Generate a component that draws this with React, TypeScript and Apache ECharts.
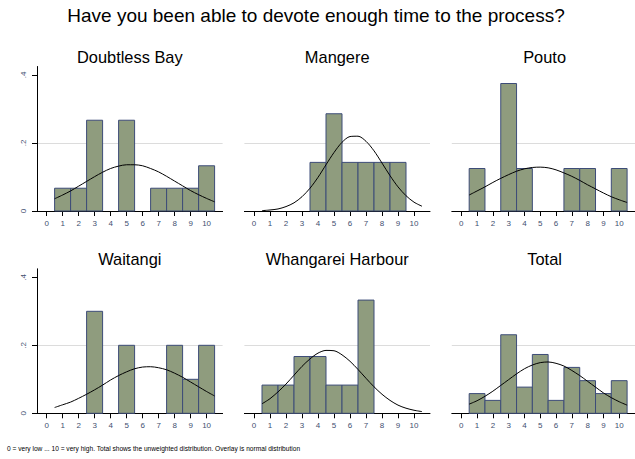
import React, { useEffect, useRef } from "react";
import * as echarts from "echarts";

const MAIN_TITLE = "Have you been able to devote enough time to the process?";
const NOTE =
  "0 = very low ... 10 = very high. Total shows the unweighted distribution. Overlay is normal distribution";

const PANEL_TITLES = ["Doubtless Bay", "Mangere", "Pouto", "Waitangi", "Whangarei Harbour", "Total"];

const BINS = [0, 1, 2, 3, 4, 5, 6, 7, 8, 9, 10];
const X_TICKS = [0, 1, 2, 3, 4, 5, 6, 7, 8, 9, 10];
const Y_TICKS = [0, 0.2, 0.4];

// histogram densities
const doubtlessBay = [0, 0.067, 0.067, 0.267, 0, 0.267, 0, 0.067, 0.067, 0.067, 0.133];
const mangere = [0, 0, 0, 0, 0.143, 0.286, 0.143, 0.143, 0.143, 0.143, 0];
const pouto = [0, 0.125, 0, 0.375, 0.125, 0, 0, 0.125, 0.125, 0, 0.125];
const waitangi = [0, 0, 0, 0.3, 0, 0.2, 0, 0, 0.2, 0.1, 0.2];
const whangarei = [0, 0.083, 0.083, 0.167, 0.167, 0.083, 0.083, 0.333, 0, 0, 0];
const total = [0, 0.058, 0.038, 0.231, 0.077, 0.173, 0.038, 0.135, 0.096, 0.058, 0.096];

// normal overlay heights, read at these x positions
const CURVE_X = [0.5, 1, 1.5, 2, 2.5, 3, 3.5, 4, 4.5, 5, 5.5, 6, 6.5, 7, 7.5, 8, 8.5, 9, 9.5, 10, 10.5];
const curveDoubtlessBay = [0.036, 0.047, 0.059, 0.073, 0.087, 0.101, 0.114, 0.125, 0.132, 0.136, 0.136, 0.133, 0.125, 0.115, 0.102, 0.088, 0.074, 0.06, 0.048, 0.037, 0.027];
const curveMangere = [0.001, 0.003, 0.006, 0.013, 0.024, 0.042, 0.067, 0.099, 0.136, 0.172, 0.202, 0.219, 0.22, 0.205, 0.177, 0.141, 0.104, 0.071, 0.045, 0.026, 0.014];
const curvePouto = [0.047, 0.059, 0.071, 0.084, 0.096, 0.107, 0.117, 0.124, 0.128, 0.129, 0.127, 0.121, 0.112, 0.102, 0.09, 0.077, 0.065, 0.053, 0.042, 0.033, 0.025];
const curveWaitangi = [0.017, 0.025, 0.033, 0.044, 0.056, 0.069, 0.083, 0.098, 0.111, 0.122, 0.131, 0.136, 0.137, 0.134, 0.128, 0.118, 0.106, 0.092, 0.078, 0.064, 0.051];
const curveWhangarei = [0.028, 0.043, 0.063, 0.086, 0.112, 0.138, 0.16, 0.177, 0.185, 0.184, 0.172, 0.153, 0.129, 0.103, 0.078, 0.056, 0.038, 0.024, 0.015, 0.009, 0.005];
const curveTotal = [0.027, 0.037, 0.05, 0.065, 0.082, 0.099, 0.116, 0.131, 0.142, 0.149, 0.151, 0.147, 0.139, 0.126, 0.111, 0.094, 0.077, 0.06, 0.046, 0.034, 0.024];

const BARS = [doubtlessBay, mangere, pouto, waitangi, whangarei, total];
const CURVES = [curveDoubtlessBay, curveMangere, curvePouto, curveWaitangi, curveWhangarei, curveTotal];

const FONT = "'Liberation Sans', Arial, sans-serif";
const BAR_FILL = "#8f9c7e";
const BAR_EDGE = "#3d4c78";
const LABEL_COLOR = "#3f4f70";

export default function App() {
  const ref = useRef<HTMLDivElement>(null);

  useEffect(() => {
    if (!ref.current) return;
    const chart = echarts.init(ref.current, null, { renderer: "svg" });

    const colLeft = [37, 244.4, 451.8];
    const gridW = 185.6;
    const rowTop = [66.5, 268.8];
    const gridH = 144.5;

    const grids: any[] = [];
    const xAxes: any[] = [];
    const yAxes: any[] = [];
    const series: any[] = [];
    const graphics: any[] = [];

    PANEL_TITLES.forEach((name, i) => {
      const c = i % 3;
      const r = Math.floor(i / 3);
      grids.push({ left: colLeft[c], top: rowTop[r], width: gridW, height: gridH });
      xAxes.push({
        type: "value",
        gridIndex: i,
        min: -0.6,
        max: 11,
        axisLine: { show: true, onZero: false, lineStyle: { color: "#000", width: 1 } },
        axisTick: { show: true, customValues: X_TICKS, length: 5, lineStyle: { color: "#000" } },
        axisLabel: {
          show: true,
          customValues: X_TICKS,
          fontSize: 8,
          fontFamily: FONT,
          color: LABEL_COLOR,
          margin: 8,
        },
        splitLine: { show: false },
      });
      yAxes.push({
        type: "value",
        gridIndex: i,
        min: 0,
        max: 0.425,
        interval: 0.2,
        axisLine: { show: c === 0, onZero: false, lineStyle: { color: "#000", width: 1 } },
        axisTick: { show: c === 0, customValues: Y_TICKS, length: 5, lineStyle: { color: "#000" } },
        axisLabel: {
          show: c === 0,
          customValues: Y_TICKS,
          rotate: 90,
          fontSize: 8,
          fontFamily: FONT,
          color: LABEL_COLOR,
          margin: 10,
          formatter: (v: number) => (v === 0 ? "0" : String(+v.toFixed(1)).replace(/^0/, "")),
        },
        splitLine: { show: true, showMinLine: false, showMaxLine: false, lineStyle: { color: "#dcdcdc", width: 1 } },
      });
      series.push({
        type: "custom",
        xAxisIndex: i,
        yAxisIndex: i,
        z: 3,
        encode: { x: 0, y: 1 },
        data: BINS.map((b, k) => [b, BARS[i][k]]),
        renderItem: (_p: any, api: any) => {
          const x = api.value(0);
          const v = api.value(1);
          if (!v) return { type: "group", children: [] };
          const p0 = api.coord([x - 0.5, v]);
          const p1 = api.coord([x + 0.5, 0]);
          return {
            type: "rect",
            shape: { x: p0[0], y: p0[1], width: p1[0] - p0[0], height: p1[1] - p0[1] },
            style: { fill: BAR_FILL, stroke: BAR_EDGE, lineWidth: 1 },
          };
        },
      });
      series.push({
        type: "line",
        xAxisIndex: i,
        yAxisIndex: i,
        z: 4,
        smooth: 0.3,
        showSymbol: false,
        symbol: "none",
        lineStyle: { color: "#000", width: 1 },
        data: CURVE_X.map((x, k) => [x, CURVES[i][k]]),
      });
      graphics.push({
        type: "text",
        x: colLeft[c] + gridW / 2,
        y: rowTop[r] - 9.7,
        style: {
          text: name,
          textAlign: "center",
          textVerticalAlign: "middle",
          fontSize: 16.4,
          fontFamily: FONT,
          fill: "#000",
        },
      });
    });

    graphics.push({
      type: "text",
      x: 316,
      y: 15.5,
      style: {
        text: MAIN_TITLE,
        textAlign: "center",
        textVerticalAlign: "middle",
        fontSize: 19,
        fontFamily: FONT,
        fill: "#000",
      },
    });
    graphics.push({
      type: "text",
      x: 7,
      y: 448,
      style: {
        text: NOTE,
        textAlign: "left",
        textVerticalAlign: "middle",
        fontSize: 6.6,
        fontFamily: FONT,
        fill: "#000",
      },
    });

    chart.setOption({
      animation: false,
      backgroundColor: "#fff",
      grid: grids,
      xAxis: xAxes,
      yAxis: yAxes,
      series,
      graphic: graphics,
    });
    return () => chart.dispose();
  }, []);

  return (
    <div
      ref={ref}
      style={{ position: "absolute", left: 0, top: 0, width: 635, height: 459, background: "#fff" }}
    />
  );
}
